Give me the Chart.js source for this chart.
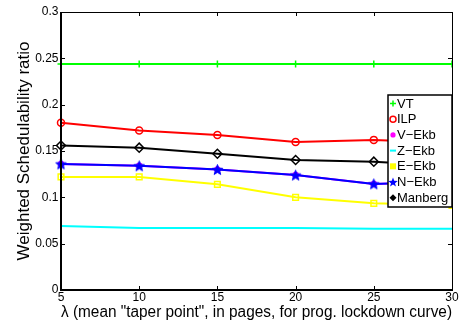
<!DOCTYPE html>
<html><head><meta charset="utf-8">
<script src="https://cdn.jsdelivr.net/npm/chart.js@4/dist/chart.umd.min.js"></script>
<style>html,body{margin:0;padding:0;background:#fff}</style>
</head><body>
<canvas id="c" width="469" height="323"></canvas>
<script>
const lambdas = [5, 10, 15, 20, 25, 30];
const vt      = [0.244, 0.244, 0.244, 0.244, 0.244, 0.244];
const ilp     = [0.1805, 0.172, 0.1673, 0.1597, 0.162, 0.159];
const vEkb    = [0.136, 0.134, 0.130, 0.124, 0.1145, 0.117];
const zEkb    = [0.069, 0.067, 0.067, 0.067, 0.066, 0.066];
const eEkb    = [0.122, 0.122, 0.114, 0.100, 0.0935, 0.0914];
const nEkb    = [0.136, 0.134, 0.130, 0.124, 0.1145, 0.117];
const manberg = [0.156, 0.1536, 0.147, 0.1403, 0.1385, 0.1338];
const xTicks = [5, 10, 15, 20, 25, 30];
const yTicks = [0, 0.05, 0.1, 0.15, 0.2, 0.25, 0.3];
const yTickLabels = ['0', '0.05', '0.1', '0.15', '0.2', '0.25', '0.3'];
const seriesLabels = ['VT', 'ILP', 'V\u2212Ekb', 'Z\u2212Ekb', 'E\u2212Ekb', 'N\u2212Ekb', 'Manberg'];
const xTitle = '\u03bb (mean "taper point", in pages, for prog. lockdown curve)';
const yTitle = 'Weighted Schedulability ratio';

function starPath(ctx, cx, cy, R) {
  const r = R * 0.42;
  ctx.beginPath();
  for (let i = 0; i < 10; i++) {
    const a = -Math.PI / 2 + i * Math.PI / 5;
    const rr = i % 2 === 0 ? R : r;
    const px = cx + rr * Math.cos(a), py = cy + rr * Math.sin(a);
    if (i === 0) ctx.moveTo(px, py); else ctx.lineTo(px, py);
  }
  ctx.closePath();
}
function makeStar(R, color) {
  const s = Math.ceil(2 * R + 2);
  const cv = document.createElement('canvas');
  cv.width = s; cv.height = s;
  const c = cv.getContext('2d');
  starPath(c, s / 2, s / 2 + 0.5, R);
  c.fillStyle = color; c.fill();
  c.strokeStyle = color; c.lineWidth = 1; c.stroke();
  return cv;
}
const starImg = makeStar(5.5, '#0000ff');

const pts = arr => arr.map((y, i) => ({ x: lambdas[i], y }));
const base = {
  borderWidth: 2, pointBorderWidth: 1.5, pointHoverRadius: 0, tension: 0,
  clip: { left: 8, top: 8, right: 0, bottom: 8 }
};
const datasets = [
  Object.assign({}, base, { label: seriesLabels[0], data: pts(vt), borderColor: '#00ff00', pointBorderColor: '#00ff00', pointStyle: 'cross', pointRadius: 3.5, order: 6 }),
  Object.assign({}, base, { label: seriesLabels[1], data: pts(ilp), borderColor: '#ff0000', pointBorderColor: '#ff0000', pointBackgroundColor: 'rgba(0,0,0,0)', pointStyle: 'circle', pointRadius: 3.5, order: 5 }),
  Object.assign({}, base, { label: seriesLabels[2], data: pts(vEkb), borderColor: '#ff00ff', pointBorderColor: '#ff00ff', pointBackgroundColor: '#ff00ff', pointStyle: 'circle', pointRadius: 2.5, order: 4 }),
  Object.assign({}, base, { label: seriesLabels[3], data: pts(zEkb), borderColor: '#00ffff', pointRadius: 0, order: 3 }),
  Object.assign({}, base, { label: seriesLabels[4], data: pts(eEkb), borderColor: '#ffff00', pointBorderColor: '#ffff00', pointBackgroundColor: 'rgba(0,0,0,0)', pointStyle: 'rect', pointRadius: 4, order: 2 }),
  Object.assign({}, base, { label: seriesLabels[5], data: pts(nEkb), borderColor: '#0000ff', pointBorderColor: '#0000ff', pointStyle: starImg, pointRadius: 5, order: 0 }),
  Object.assign({}, base, { label: seriesLabels[6], data: pts(manberg), borderColor: '#000000', pointBorderColor: '#000000', pointBackgroundColor: 'rgba(0,0,0,0)', pointStyle: 'rectRot', pointRadius: 4.5, order: 1 })
];

const legendMarkers = ['cross', 'circle', 'dot', 'dash', 'square', 'star', 'diamond'];

function drawMarker(ctx, type, x, y, color) {
  ctx.save();
  ctx.strokeStyle = color; ctx.fillStyle = color; ctx.lineWidth = 1.5;
  ctx.beginPath();
  if (type === 'cross') {
    ctx.moveTo(x - 3, y); ctx.lineTo(x + 3, y); ctx.moveTo(x, y - 3); ctx.lineTo(x, y + 3); ctx.stroke();
  } else if (type === 'circle') {
    ctx.arc(x, y, 3, 0, Math.PI * 2); ctx.stroke();
  } else if (type === 'dot') {
    ctx.arc(x, y, 2.6, 0, Math.PI * 2); ctx.fill();
  } else if (type === 'dash') {
    ctx.lineWidth = 2; ctx.moveTo(x - 3, y); ctx.lineTo(x + 3, y); ctx.stroke();
  } else if (type === 'square') {
    ctx.fillRect(x - 3, y - 3, 6, 6);
  } else if (type === 'star') {
    starPath(ctx, x, y + 0.5, 5); ctx.fill();
  } else if (type === 'diamond') {
    ctx.moveTo(x, y - 3.5); ctx.lineTo(x + 3.5, y); ctx.lineTo(x, y + 3.5); ctx.lineTo(x - 3.5, y); ctx.closePath(); ctx.fill();
  }
  ctx.restore();
}

const framePlugin = {
  id: 'frame',
  afterDatasetsDraw(chart) {
    const { ctx, chartArea: a, scales } = chart;
    ctx.save();
    ctx.strokeStyle = '#000';
    ctx.lineWidth = 1;
    ctx.beginPath();
    xTicks.forEach(v => {
      const px = Math.round(scales.x.getPixelForValue(v)) + 0.5;
      ctx.moveTo(px, a.bottom); ctx.lineTo(px, a.bottom - 4);
      ctx.moveTo(px, a.top); ctx.lineTo(px, a.top + 4);
    });
    yTicks.forEach(v => {
      const py = Math.round(scales.y.getPixelForValue(v)) + 0.5;
      ctx.moveTo(a.left, py); ctx.lineTo(a.left + 4, py);
      ctx.moveTo(a.right, py); ctx.lineTo(a.right - 4, py);
    });
    ctx.stroke();
    ctx.lineWidth = 1;
    ctx.beginPath();
    ctx.moveTo(a.left, a.top + 0.5); ctx.lineTo(a.right + 0.5, a.top + 0.5); ctx.lineTo(a.right + 0.5, a.bottom);
    ctx.stroke();
    ctx.lineWidth = 2;
    ctx.beginPath();
    ctx.moveTo(a.left, a.top); ctx.lineTo(a.left, a.bottom); ctx.lineTo(a.right + 1, a.bottom);
    ctx.stroke();

    const lx = 388, ly = 95, lw = 64, lh = 112;
    ctx.fillStyle = '#fff';
    ctx.fillRect(lx, ly, lw, lh);
    ctx.lineWidth = 1.5;
    ctx.strokeRect(lx, ly, lw, lh);
    ctx.font = '13px "Liberation Sans", Arial, sans-serif';
    ctx.textBaseline = 'middle';
    ctx.textAlign = 'left';
    chart.data.datasets.forEach((ds, i) => {
      const y = ly + 8.5 + i * 15.7;
      drawMarker(ctx, legendMarkers[i], lx + 5, y, ds.borderColor);
      ctx.fillStyle = '#000';
      ctx.fillText(ds.label, lx + 9, y + 0.5);
    });
    ctx.restore();
  }
};

new Chart(document.getElementById('c'), {
  type: 'line',
  data: { datasets },
  options: {
    responsive: false,
    devicePixelRatio: 1,
    animation: false,
    events: [],
    layout: { padding: { top: 12, right: 17, left: 0, bottom: 0 } },
    plugins: { legend: { display: false }, tooltip: { enabled: false } },
    scales: {
      x: {
        type: 'linear', min: 5, max: 30,
        afterBuildTicks: s => { s.ticks = xTicks.map(v => ({ value: v })); },
        afterFit: s => { s.height = 33; },
        grid: { display: false, drawTicks: false },
        border: { display: false },
        ticks: { color: '#000', font: { family: '"Liberation Sans", Arial, sans-serif', size: 12 }, padding: 0, maxRotation: 0, autoSkip: false },
        title: { display: true, text: xTitle, color: '#000', font: { family: '"Liberation Sans", Arial, sans-serif', size: 17.3 }, padding: { top: 0, bottom: 0 } }
      },
      y: {
        type: 'linear', min: 0, max: 0.3,
        afterBuildTicks: s => { s.ticks = yTicks.map(v => ({ value: v })); },
        afterFit: s => { s.width = 61; },
        grid: { display: false, drawTicks: false },
        border: { display: false },
        ticks: { color: '#000', font: { family: '"Liberation Sans", Arial, sans-serif', size: 12 }, padding: 2.5, autoSkip: false,
                 callback: (v, i) => yTickLabels[yTicks.indexOf(v)] },
        title: { display: true, text: yTitle, color: '#000', font: { family: '"Liberation Sans", Arial, sans-serif', size: 17 }, padding: { top: 14, bottom: 0 } }
      }
    }
  },
  plugins: [framePlugin]
});
</script>
</body></html>
